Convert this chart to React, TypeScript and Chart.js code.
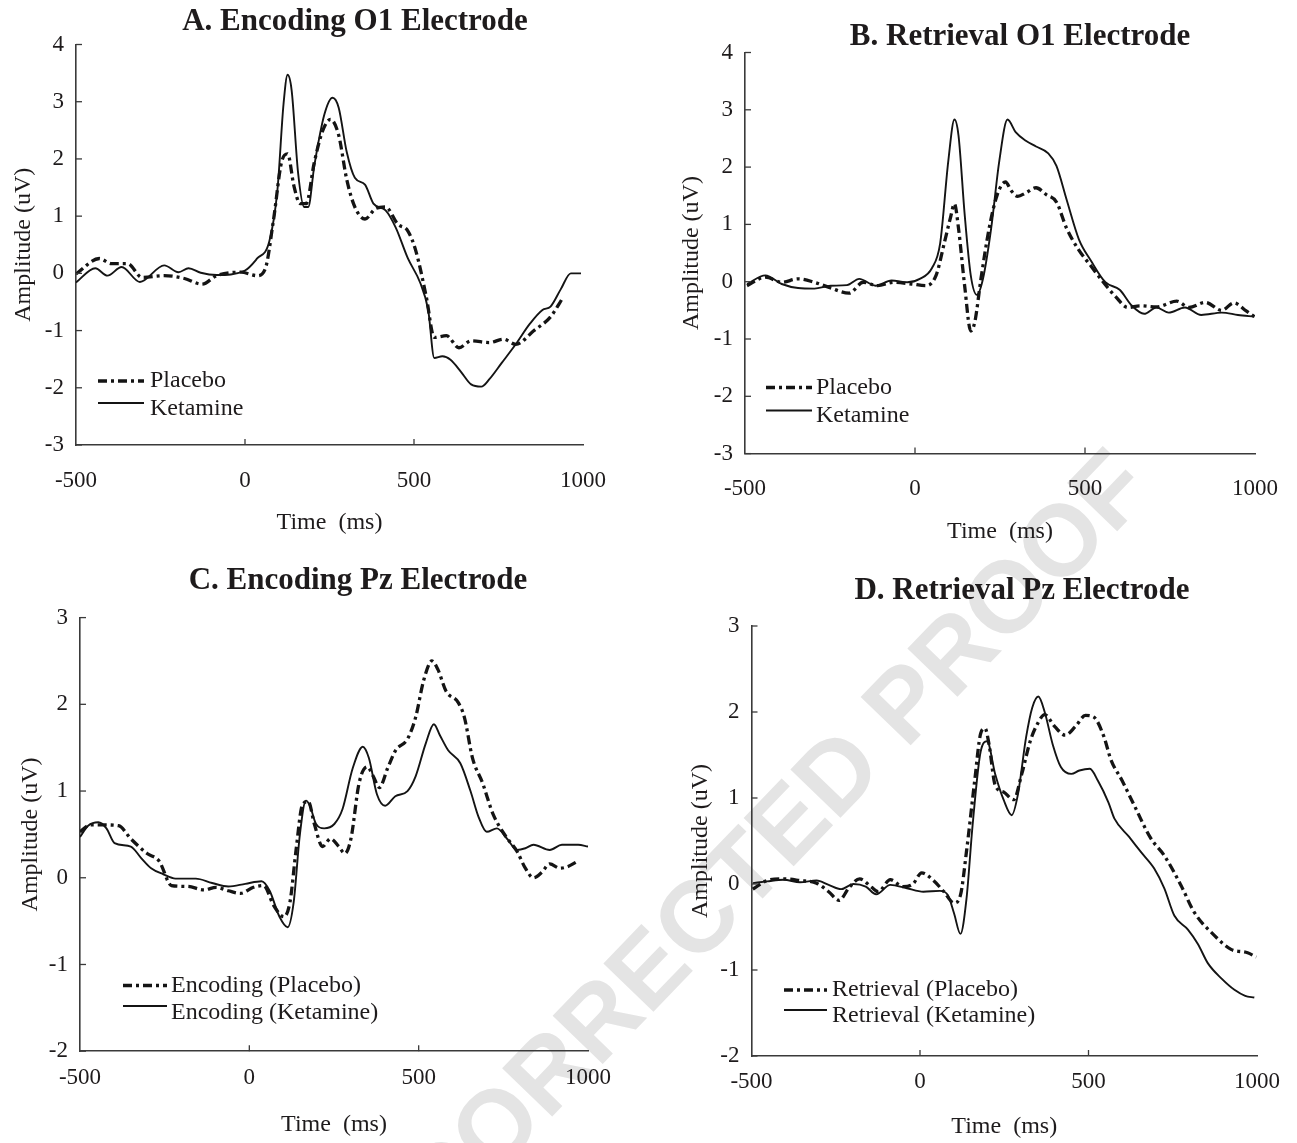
import React, { useEffect, useRef } from "react";
import { Chart, registerables } from "chart.js";

Chart.register(...registerables);

// ---------------- DATA ----------------
// Panel A – Encoding O1
const timeA_placebo = [-500, -431, -395, -347, -305, -239, -179, -127, -84, -12, 36, 60, 84, 108, 126, 145, 163, 181, 205, 229, 253, 277, 301, 325, 355, 386, 416, 452, 482, 506, 536, 560, 596, 633, 669, 723, 765, 801, 855, 904, 940];
const ampA_placebo = [-0.01, 0.26, 0.17, 0.17, -0.07, -0.04, -0.09, -0.19, -0.04, 0.02, -0.04, 0.08, 0.92, 1.94, 2.09, 1.52, 1.22, 1.22, 1.94, 2.48, 2.69, 2.42, 1.64, 1.16, 0.95, 1.13, 1.16, 0.86, 0.74, 0.38, -0.4, -1.12, -1.09, -1.3, -1.18, -1.21, -1.15, -1.24, -1.0, -0.76, -0.43];
const timeA_ketamine = [-500, -443, -407, -365, -311, -239, -197, -167, -131, -84, 0, 36, 72, 96, 114, 126, 138, 157, 175, 187, 205, 235, 259, 277, 301, 325, 355, 380, 416, 446, 482, 518, 542, 560, 584, 608, 639, 669, 699, 723, 759, 801, 843, 880, 904, 934, 964, 994];
const ampA_ketamine = [-0.16, 0.09, -0.04, 0.11, -0.15, 0.14, 0.02, 0.09, 0.01, -0.03, 0.05, 0.26, 0.56, 1.46, 2.96, 3.47, 3.2, 1.76, 1.16, 1.16, 1.88, 2.78, 3.07, 2.9, 2.12, 1.67, 1.55, 1.22, 1.1, 0.8, 0.26, -0.16, -0.64, -1.48, -1.45, -1.51, -1.72, -1.94, -1.98, -1.85, -1.57, -1.24, -0.88, -0.64, -0.58, -0.28, 0.0, 0.0];

// Panel B – Retrieval O1
const timeB_placebo = [-494, -440, -392, -344, -296, -248, -194, -152, -110, -63, -10, 32, 62, 86, 104, 116, 128, 146, 164, 176, 194, 218, 242, 266, 284, 302, 326, 356, 386, 416, 446, 482, 518, 554, 590, 626, 662, 710, 770, 806, 854, 902, 938, 974, 998];
const ampB_placebo = [-0.07, 0.08, -0.01, 0.05, -0.01, -0.11, -0.2, -0.01, -0.07, -0.01, -0.04, -0.07, 0.11, 0.67, 1.11, 1.36, 0.93, -0.07, -0.86, -0.7, 0.05, 0.93, 1.52, 1.74, 1.58, 1.49, 1.55, 1.64, 1.52, 1.39, 0.93, 0.55, 0.27, -0.01, -0.26, -0.45, -0.42, -0.44, -0.34, -0.45, -0.36, -0.5, -0.37, -0.51, -0.61];
const timeB_ketamine = [-494, -440, -392, -344, -296, -248, -200, -164, -116, -69, -22, 14, 50, 74, 98, 116, 128, 146, 164, 182, 200, 224, 248, 272, 296, 326, 356, 392, 416, 446, 482, 518, 560, 602, 638, 674, 710, 746, 794, 842, 902, 950, 998];
const ampB_ketamine = [-0.04, 0.11, -0.04, -0.11, -0.12, -0.07, -0.06, 0.05, -0.07, 0.02, -0.01, 0.05, 0.24, 0.67, 2.11, 2.83, 2.55, 1.18, 0.11, -0.23, 0.05, 0.93, 2.11, 2.83, 2.61, 2.46, 2.36, 2.24, 2.02, 1.43, 0.74, 0.36, -0.01, -0.14, -0.42, -0.56, -0.45, -0.54, -0.45, -0.58, -0.54, -0.58, -0.61];

// Panel C – Encoding Pz
const timeC_placebo = [-500, -470, -434, -386, -350, -302, -266, -230, -182, -134, -98, -62, -26, 12, 42, 72, 102, 120, 138, 156, 174, 192, 216, 240, 264, 282, 300, 324, 348, 366, 384, 408, 432, 467, 491, 515, 539, 557, 581, 617, 635, 659, 689, 719, 755, 791, 815, 839, 863, 887, 917, 941, 965];
const ampC_placebo = [0.53, 0.61, 0.61, 0.6, 0.45, 0.28, 0.19, -0.09, -0.1, -0.14, -0.11, -0.15, -0.18, -0.11, -0.09, -0.32, -0.45, -0.28, 0.32, 0.83, 0.88, 0.62, 0.36, 0.45, 0.36, 0.28, 0.45, 1.09, 1.28, 1.17, 1.04, 1.26, 1.47, 1.6, 1.85, 2.28, 2.5, 2.4, 2.15, 2.02, 1.85, 1.38, 1.09, 0.74, 0.49, 0.3, 0.11, 0.0, 0.06, 0.16, 0.11, 0.13, 0.18];
const timeC_ketamine = [-500, -476, -446, -422, -398, -350, -320, -290, -254, -218, -158, -110, -62, -12, 36, 60, 89, 113, 131, 149, 167, 179, 197, 221, 251, 275, 305, 335, 353, 377, 401, 431, 467, 491, 521, 545, 563, 587, 623, 653, 677, 701, 731, 761, 791, 815, 839, 887, 923, 971, 1000];
const ampC_ketamine = [0.47, 0.6, 0.64, 0.57, 0.4, 0.36, 0.23, 0.11, 0.04, -0.01, -0.01, -0.06, -0.1, -0.07, -0.04, -0.15, -0.45, -0.57, -0.28, 0.49, 0.89, 0.83, 0.62, 0.57, 0.62, 0.79, 1.26, 1.51, 1.38, 0.96, 0.83, 0.94, 1.0, 1.17, 1.55, 1.77, 1.64, 1.47, 1.32, 1.0, 0.7, 0.53, 0.57, 0.45, 0.32, 0.34, 0.38, 0.32, 0.38, 0.38, 0.36];

// Panel D – Retrieval Pz
const timeD_placebo = [-496, -454, -405, -356, -307, -271, -240, -210, -179, -143, -124, -88, -51, -21, 5, 40, 71, 101, 120, 138, 162, 180, 193, 205, 223, 248, 278, 302, 327, 351, 370, 400, 431, 461, 491, 516, 546, 566, 600, 635, 685, 725, 775, 814, 874, 923, 972, 998];
const ampD_placebo = [-0.06, 0.04, 0.06, 0.04, 0.01, -0.09, -0.19, -0.04, 0.06, -0.04, -0.09, 0.05, -0.03, 0.0, 0.13, 0.04, -0.09, -0.22, -0.13, 0.38, 1.19, 1.75, 1.81, 1.62, 1.15, 1.07, 0.98, 1.28, 1.66, 1.88, 1.97, 1.83, 1.73, 1.83, 1.96, 1.94, 1.71, 1.45, 1.2, 0.92, 0.53, 0.33, -0.02, -0.33, -0.6, -0.76, -0.8, -0.85];
const timeD_ketamine = [-496, -454, -405, -356, -307, -271, -234, -198, -161, -130, -88, -39, 10, 59, 83, 101, 120, 138, 156, 180, 199, 223, 248, 272, 290, 315, 333, 351, 370, 394, 418, 449, 473, 504, 528, 559, 577, 620, 656, 695, 725, 755, 795, 825, 854, 895, 933, 965, 992];
const ampD_ketamine = [0.01, 0.03, 0.05, 0.02, 0.04, -0.01, -0.06, 0.0, -0.03, -0.12, -0.01, -0.05, -0.09, -0.08, -0.13, -0.34, -0.58, -0.17, 0.68, 1.54, 1.66, 1.28, 0.98, 0.8, 1.03, 1.71, 2.05, 2.18, 2.0, 1.62, 1.36, 1.28, 1.32, 1.34, 1.2, 0.95, 0.76, 0.55, 0.37, 0.18, -0.05, -0.37, -0.53, -0.7, -0.92, -1.1, -1.23, -1.3, -1.32];

const titles = ["A. Encoding O1 Electrode", "B. Retrieval O1 Electrode", "C. Encoding Pz Electrode", "D. Retrieval Pz Electrode"];
const legendA = ["Placebo", "Ketamine"];
const legendB = ["Placebo", "Ketamine"];
const legendC = ["Encoding (Placebo)", "Encoding (Ketamine)"];
const legendD = ["Retrieval (Placebo)", "Retrieval (Ketamine)"];
const xTicks = [-500, 0, 500, 1000];
const yRangeTop = [-3, 4];
const yRangeBottom = [-2, 3];
const xLabel = "Time  (ms)";
const yLabel = "Amplitude (uV)";
const watermark = "CORRECTED PROOF";

// ---------------- STYLE / LAYOUT ----------------
const FONT = "'Liberation Serif', 'Times New Roman', serif";
const INK = "#1e1b1c";
const AXIS = "#3a3a3a";
const LINE = "#141414";

type Geo = {
  cl: number; ct: number; L: number; R: number; T: number; B: number;
  ampX: number; tickY: number; timeY: number; titleX: number; titleY: number;
  legX1: number; legX2: number; legTextX: number; legRows: number[][];
};

const geoA: Geo = { cl: 0, ct: 0, L: 76, R: 583, T: 44.5, B: 445, ampX: 24, tickY: 481, timeY: 523, titleX: 355, titleY: 22, legX1: 98, legX2: 144, legTextX: 150, legRows: [[381, 381], [403, 409]] };
const geoB: Geo = { cl: 670, ct: 0, L: 745, R: 1255, T: 52.5, B: 453.6, ampX: 692, tickY: 489, timeY: 532, titleX: 1020, titleY: 37, legX1: 766, legX2: 812, legTextX: 816, legRows: [[387.5, 387.5], [410.5, 416]] };
const geoC: Geo = { cl: 0, ct: 555, L: 80, R: 588, T: 617.6, B: 1051.2, ampX: 31, tickY: 1078, timeY: 1125, titleX: 358, titleY: 581, legX1: 123, legX2: 167, legTextX: 171, legRows: [[985.5, 985.5], [1006, 1013]] };
const geoD: Geo = { cl: 670, ct: 560, L: 751.5, R: 1257, T: 626, B: 1056, ampX: 701, tickY: 1081.5, timeY: 1127, titleX: 1022, titleY: 591, legX1: 784, legX2: 827, legTextX: 832, legRows: [[990, 990], [1010, 1016]] };

type Series = { label: string; t: number[]; v: number[]; dashed: boolean };

function PanelChart(props: { geo: Geo; title: string; yRange: number[]; series: Series[] }) {
  const { geo, title, yRange, series } = props;
  const ref = useRef<HTMLCanvasElement>(null);
  const width = Math.round(geo.R - geo.cl + 40);
  const scaleBottom = geo.timeY + 14.4 + 1;
  const height = Math.round(scaleBottom - geo.ct);
  const yW = geo.L - geo.cl;
  const xH = height - (geo.B - geo.ct);
  const yTitlePad = geo.ampX - geo.cl - 14.4;
  const xTickPad = geo.tickY - geo.B - 13.8;

  useEffect(() => {
    const canvas = ref.current;
    if (!canvas) return;
    const deco = {
      id: "deco",
      afterDraw(chart: any) {
        const ctx = chart.ctx as CanvasRenderingContext2D;
        const ca = chart.chartArea;
        const xs = chart.scales.x;
        const ys = chart.scales.y;
        ctx.save();
        // inward tick marks
        ctx.strokeStyle = AXIS;
        ctx.lineWidth = 1.3;
        ctx.setLineDash([]);
        ys.ticks.forEach((tk: any) => {
          const p = ys.getPixelForValue(tk.value);
          ctx.beginPath();
          ctx.moveTo(ca.left, p);
          ctx.lineTo(ca.left + 6, p);
          ctx.stroke();
        });
        xs.ticks.forEach((tk: any) => {
          if (tk.value === xTicks[0] || tk.value === xTicks[xTicks.length - 1]) return;
          const p = xs.getPixelForValue(tk.value);
          ctx.beginPath();
          ctx.moveTo(p, ca.bottom);
          ctx.lineTo(p, ca.bottom - 6);
          ctx.stroke();
        });
        // title
        ctx.fillStyle = INK;
        ctx.font = `bold 31px ${FONT}`;
        ctx.textAlign = "center";
        ctx.textBaseline = "middle";
        ctx.fillText(title, geo.titleX - geo.cl, geo.titleY - geo.ct);
        // legend
        chart.data.datasets.forEach((ds: any, i: number) => {
          const row = geo.legRows[i];
          ctx.strokeStyle = ds.borderColor;
          ctx.lineWidth = ds.borderWidth;
          ctx.setLineDash(ds.borderDash || []);
          ctx.beginPath();
          ctx.moveTo(geo.legX1 - geo.cl, row[0] - geo.ct);
          ctx.lineTo(geo.legX2 - geo.cl, row[0] - geo.ct);
          ctx.stroke();
          ctx.setLineDash([]);
          ctx.fillStyle = INK;
          ctx.font = `24px ${FONT}`;
          ctx.textAlign = "left";
          ctx.textBaseline = "middle";
          ctx.fillText(ds.label, geo.legTextX - geo.cl, row[1] - geo.ct);
        });
        ctx.restore();
      },
    };

    const chart = new Chart(canvas, {
      type: "line",
      data: {
        datasets: series.map((s) => ({
          label: s.label,
          data: s.t.map((t, i) => ({ x: t, y: s.v[i] })),
          borderColor: LINE,
          borderWidth: s.dashed ? 3.3 : 1.9,
          borderDash: s.dashed ? [9, 4, 3, 4] : [],
          borderCapStyle: "butt",
          pointRadius: 0,
          fill: false,
          cubicInterpolationMode: "monotone",
        })),
      },
      options: {
        animation: false,
        responsive: false,
        maintainAspectRatio: false,
        events: [],
        layout: { padding: { left: 0, right: width - (geo.R - geo.cl), top: geo.T - geo.ct, bottom: 0 } },
        plugins: { legend: { display: false }, title: { display: false }, tooltip: { enabled: false } },
        scales: {
          x: {
            type: "linear",
            min: xTicks[0],
            max: xTicks[xTicks.length - 1],
            grid: { display: false, drawTicks: false },
            border: { display: true, color: AXIS, width: 1.6 },
            ticks: {
              stepSize: 500,
              padding: xTickPad,
              color: INK,
              maxRotation: 0,
              autoSkip: false,
              font: { family: FONT, size: 23 },
              callback: (v: any) => String(v),
            },
            title: { display: true, text: xLabel, color: INK, font: { family: FONT, size: 24 }, padding: { top: 0, bottom: 1 } },
            afterFit: (s: any) => { s.height = xH; s.paddingLeft = 0; s.paddingRight = 0; },
          },
          y: {
            type: "linear",
            min: yRange[0],
            max: yRange[1],
            grid: { display: false, drawTicks: false },
            border: { display: true, color: AXIS, width: 1.6 },
            ticks: { stepSize: 1, padding: 12, color: INK, font: { family: FONT, size: 23 }, callback: (v: any) => String(v) },
            title: { display: true, text: yLabel, color: INK, font: { family: FONT, size: 24 }, padding: { top: yTitlePad, bottom: 0 } },
            afterFit: (s: any) => { s.width = yW; s.paddingTop = 0; s.paddingBottom = 0; },
          },
        },
      } as any,
      plugins: [deco],
    });
    return () => chart.destroy();
  }, []);

  return (
    <canvas
      ref={ref}
      width={width}
      height={height}
      style={{ position: "absolute", left: geo.cl, top: geo.ct, width, height }}
    />
  );
}

export default function App() {
  return (
    <div style={{ position: "fixed", left: 0, top: 0, width: 1297, height: 1143, overflow: "hidden", background: "#ffffff" }}>
      <div
        style={{
          position: "absolute",
          left: 774,
          top: 837,
          transform: "translate(-50%, -50%) rotate(-46deg)",
          fontFamily: "'Liberation Sans', Arial, sans-serif",
          fontWeight: 700,
          fontSize: 101,
          lineHeight: 1,
          color: "#e4e4e4",
          whiteSpace: "pre",
        }}
      >
        {watermark}
      </div>
      <PanelChart geo={geoA} title={titles[0]} yRange={yRangeTop} series={[
        { label: legendA[0], t: timeA_placebo, v: ampA_placebo, dashed: true },
        { label: legendA[1], t: timeA_ketamine, v: ampA_ketamine, dashed: false },
      ]} />
      <PanelChart geo={geoB} title={titles[1]} yRange={yRangeTop} series={[
        { label: legendB[0], t: timeB_placebo, v: ampB_placebo, dashed: true },
        { label: legendB[1], t: timeB_ketamine, v: ampB_ketamine, dashed: false },
      ]} />
      <PanelChart geo={geoC} title={titles[2]} yRange={yRangeBottom} series={[
        { label: legendC[0], t: timeC_placebo, v: ampC_placebo, dashed: true },
        { label: legendC[1], t: timeC_ketamine, v: ampC_ketamine, dashed: false },
      ]} />
      <PanelChart geo={geoD} title={titles[3]} yRange={yRangeBottom} series={[
        { label: legendD[0], t: timeD_placebo, v: ampD_placebo, dashed: true },
        { label: legendD[1], t: timeD_ketamine, v: ampD_ketamine, dashed: false },
      ]} />
    </div>
  );
}
